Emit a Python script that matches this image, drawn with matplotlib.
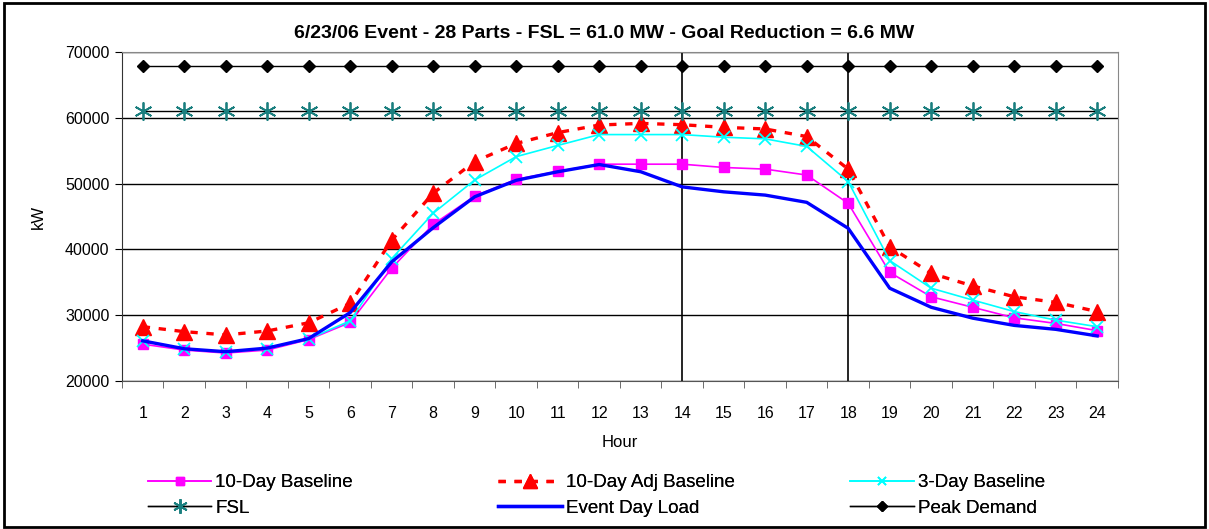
import numpy as np
import matplotlib.pyplot as plt
from matplotlib.patches import Rectangle

plt.rcParams['font.family'] = ['Liberation Sans', 'DejaVu Sans']

hours = list(range(1, 25))
baseline_10day = [25600, 24700, 24250, 24700, 26300, 28900, 37150, 43800, 48100, 50650,
                  51850, 52950, 52950, 52950, 52450, 52200, 51300, 47000, 36500, 32800,
                  31200, 29600, 28750, 27650]
baseline_10day_adj = [28250, 27500, 27000, 27600, 28850, 31800, 41400, 48550, 53350, 56100,
                      57750, 58900, 59150, 58950, 58550, 58300, 57150, 52200, 40400, 36350,
                      34450, 32800, 31950, 30550]
baseline_3day = [26150, 24850, 24400, 24900, 26400, 29150, 38600, 45500, 50550, 54100,
                 55800, 57450, 57450, 57450, 57050, 56800, 55650, 50300, 38300, 34100,
                 32300, 30550, 29250, 28250]
event_day_load = [26100, 24900, 24450, 25000, 26450, 30400, 38100, 43300, 48000, 50500,
                  51800, 52900, 51800, 49500, 48750, 48250, 47150, 43200, 34100, 31200,
                  29550, 28450, 27850, 26850]
fsl = [61100] * 24
peak_demand = [67800] * 24
event_window = [14, 18]

fig = plt.figure(figsize=(12.09, 5.29), dpi=100)
ax = fig.add_axes([0.1009, 0.2798, 0.8238, 0.6219])

ax.plot(hours, baseline_10day, color='#FF00FF', lw=1.2, marker='s', ms=6.5, label='10-Day Baseline')
ax.plot(hours, baseline_10day_adj, color='#FF0000', lw=2.4, ls=(0, (2.2, 2.6)), marker='^', ms=12,
        label='10-Day Adj Baseline')
ax.plot(hours, baseline_3day, color='#00FFFF', lw=1.2, marker='x', ms=8, mew=1.3, label='3-Day Baseline')
ax.plot(hours, fsl, color='black', lw=1, marker=(6, 2, 0), ms=13, mec='#1A7F7F', mew=1.3, label='FSL')
ax.plot(hours, event_day_load, color='#0000FF', lw=2.4, label='Event Day Load')
ax.plot(hours, peak_demand, color='black', lw=1, marker='D', ms=6, label='Peak Demand')
for h in event_window:
    ax.axvline(h, color='black', lw=1.2, zorder=1)

ax.set_xlim(0.5, 24.5)
ax.set_ylim(20000, 70000)
ax.set_yticks(range(20000, 70001, 10000))
ax.yaxis.grid(True, color='black', lw=1)
ax.set_axisbelow(True)
ax.set_xticks(hours)
ax.set_xticks(np.arange(0.5, 25, 1), minor=True)
ax.tick_params(axis='x', which='major', length=0, pad=18, labelsize=11.5)
ax.tick_params(axis='x', which='minor', length=5, direction='out', color='#555555')
ax.tick_params(axis='y', length=5, direction='out', pad=4, labelsize=11.5)
for s in ['top', 'right']:
    ax.spines[s].set_color('#888888')
ax.spines['left'].set_color('#333333')
ax.spines['bottom'].set_color('#555555')

ax.set_xlabel('Hour', fontsize=12, labelpad=10)
ax.set_ylabel('kW', fontsize=12, labelpad=14)
fig.text(0.5, 0.937, '6/23/06 Event - 28 Parts - FSL = 61.0 MW - Goal Reduction = 6.6 MW',
         ha='center', va='center', fontsize=14, fontweight='bold')

handles, labels = ax.get_legend_handles_labels()
cols = [[0, 3], [1, 4], [2, 5]]
xs = [0.116, 0.406, 0.697]
for c, x in zip(cols, xs):
    leg = fig.legend([handles[i] for i in c], [labels[i] for i in c], loc='upper left',
                     bbox_to_anchor=(x, 0.118), frameon=False, fontsize=13.5,
                     handlelength=3.4, handletextpad=0.2, numpoints=1, labelspacing=0.45,
                     borderaxespad=0, markerscale=0.8)
    fig.add_artist(leg)

fig.patches.append(Rectangle((0.003, 0.004), 0.994, 0.99, transform=fig.transFigure,
                             fill=False, edgecolor='black', lw=2))

fig.savefig('out.png', dpi=100)
